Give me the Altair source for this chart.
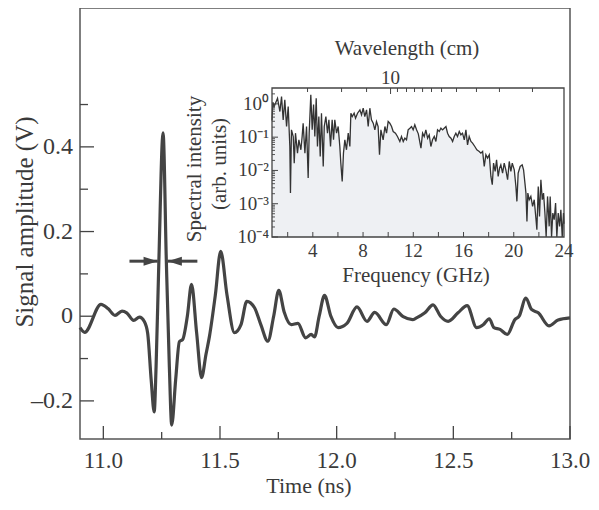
import altair as alt
import pandas as pd

# ---------------- data ----------------
# Main waveform (time in ns, amplitude in V)
time_ns = [10.90, 10.92, 10.99, 11.02, 11.05, 11.08, 11.10, 11.13, 11.155, 11.175,
           11.19, 11.205, 11.218, 11.226, 11.238, 11.256, 11.27, 11.283, 11.293, 11.31,
           11.326, 11.34, 11.36, 11.378, 11.40, 11.421, 11.44, 11.455, 11.48, 11.503,
           11.53, 11.562, 11.59, 11.615, 11.648, 11.675, 11.705, 11.73, 11.752, 11.775,
           11.805, 11.834, 11.867, 11.891, 11.905, 11.925, 11.948, 11.975, 12.006, 12.044,
           12.087, 12.13, 12.163, 12.213, 12.245, 12.285, 12.325, 12.342, 12.378, 12.413,
           12.445, 12.478, 12.52, 12.559, 12.60, 12.628, 12.654, 12.674, 12.70, 12.731,
           12.764, 12.782, 12.811, 12.835, 12.864, 12.91, 12.949, 13.0]
amp_v = [-0.027, -0.038, 0.028, 0.018, 0.002, 0.012, 0.008, -0.010, -0.002, -0.012,
         -0.04, -0.15, -0.226, -0.12, 0.13, 0.433, 0.13, -0.12, -0.257, -0.15,
         -0.06, -0.055, 0.0, 0.075, -0.04, -0.145, -0.09, -0.047, 0.05, 0.153,
         0.05, -0.039, -0.02, 0.035, 0.02, -0.02, -0.059, 0.0, 0.061, 0.01,
         -0.02, -0.017, -0.051, -0.043, -0.049, 0.0, 0.049, 0.0, -0.027, -0.017,
         0.022, -0.012, 0.009, -0.02, 0.017, -0.001, -0.008, -0.004, 0.008, 0.027,
         0.0, -0.012, 0.008, 0.025, -0.027, -0.02, -0.006, -0.027, -0.031, -0.043,
         -0.008, 0.0, 0.043, 0.016, 0.008, -0.023, -0.009, -0.004]

# Pulse-width arrows (time in ns, amplitude in V)
arrow_level = 0.13
arrow_tail = [11.112, 11.403]
arrow_tip = [11.233, 11.276]
arrow_dir = ["right", "left"]

# Main axis ticks and labels
x_major = [11.0, 11.5, 12.0, 12.5, 13.0]
x_labels = ["11.0", "11.5", "12.0", "12.5", "13.0"]
x_minor = [11.25, 11.75, 12.25, 12.75]
y_major = [-0.2, 0.0, 0.2, 0.4]
y_labels = ["\u20130.2", "0", "0.2", "0.4"]
y_minor = [-0.1, 0.1, 0.3, 0.5]
x_title = "Time (ns)"
y_title = "Signal amplitude (V)"

# Inset spectrum (frequency in GHz, log10 of intensity)
freq_ghz = [0.75, 0.82, 0.92, 1.19, 1.38, 1.51, 1.64, 1.77, 1.91, 2.04, 2.17, 2.22, 2.30,
            2.44, 2.52, 2.62, 2.78, 2.89, 3.05, 3.15, 3.23, 3.37, 3.50, 3.63, 3.71, 3.84,
            3.95, 4.06, 4.16, 4.27, 4.37, 4.48, 4.59, 4.69, 4.83, 4.91, 5.04, 5.17, 5.28,
            5.41, 5.54, 5.65, 5.75, 5.89, 6.02, 6.15, 6.23, 6.34, 6.44, 6.55, 6.68, 6.82,
            6.95, 7.03, 7.14, 7.29, 7.40, 7.56, 7.75, 7.88, 8.01, 8.14, 8.28, 8.41, 8.54,
            8.67, 8.81, 8.94, 9.07, 9.20, 9.31, 9.42, 9.60, 9.74, 9.87, 10.00, 10.13,
            10.27, 10.40, 10.58, 10.74, 10.93, 11.06, 11.20, 11.33, 11.46, 11.59, 11.73,
            11.86, 11.99, 12.12, 12.26, 12.40, 12.61, 12.74, 12.87, 13.00, 13.14, 13.27,
            13.40, 13.53, 13.67, 13.80, 13.93, 14.07, 14.20, 14.33, 14.46, 14.60, 14.73,
            14.86, 15.00, 15.13, 15.26, 15.39, 15.52, 15.66, 15.79, 15.92, 16.06, 16.19,
            16.32, 16.45, 16.59, 16.72, 16.90, 17.06, 17.25, 17.38, 17.52, 17.65, 17.78,
            17.91, 18.05, 18.18, 18.29, 18.39, 18.52, 18.63, 18.76, 18.87, 18.97, 19.11,
            19.24, 19.37, 19.51, 19.64, 19.77, 19.88, 20.04, 20.17, 20.25, 20.35, 20.51,
            20.67, 20.78, 20.89, 20.97, 21.05, 21.12, 21.23, 21.36, 21.50, 21.63, 21.76,
            21.84, 21.95, 22.05, 22.16, 22.27, 22.37, 22.48, 22.58, 22.69, 22.82, 22.90,
            23.01, 23.11, 23.22, 23.33, 23.43, 23.54, 23.65, 23.75, 23.86, 23.96, 24.0]
log_intensity = [-0.5, 0.05, -0.08, 0.17, -0.23, 0.22, -0.48, 0.12, -0.68, -0.08, -1.28, -2.68, -0.78,
                 -0.98, -1.78, -0.88, -1.48, -1.08, -1.38, -0.98, -0.58, -1.48, -0.68, -2.23, -0.88, 0.27,
                 -0.78, -0.02, -0.98, 0.17, -1.28, -0.38, -1.58, -0.28, -1.88, -0.68, -0.38, -0.88, -0.48,
                 -1.28, -0.48, -1.08, -0.48, -0.88, -0.68, -1.28, -1.78, -2.33, -1.48, -1.08, -1.38, -0.88,
                 -1.28, -0.28, -0.38, -0.28, -0.43, -0.28, -0.18, -0.33, -0.13, -0.38, -0.18, -0.68, -0.13,
                 -0.48, -0.58, -0.78, -0.53, -0.68, -1.53, -0.78, -1.08, -0.68, -0.88, -0.53, -0.58,
                 -0.68, -0.83, -0.88, -0.98, -1.13, -0.98, -1.13, -1.03, -1.08, -0.78, -0.73,
                 -0.68, -0.78, -0.63, -0.78, -0.90, -1.33, -0.88, -0.98, -0.78, -1.03, -0.93,
                 -1.28, -1.08, -0.98, -1.13, -0.78, -0.83, -0.73, -0.78, -0.73, -0.68, -0.88,
                 -0.98, -1.03, -1.13, -0.98, -0.88, -0.98, -0.83, -0.93, -0.88, -1.08, -0.78,
                 -1.23, -0.98, -1.13, -1.18, -1.28, -1.38, -1.43, -1.48, -1.43, -1.88, -1.53,
                 -1.63, -1.53, -2.18, -2.43, -1.78, -2.03, -1.68, -2.18, -1.93, -1.83, -2.08,
                 -1.78, -1.98, -2.28, -1.73, -2.03, -1.78, -1.98, -2.48, -2.93, -2.08, -1.88,
                 -1.83, -1.98, -2.38, -2.68, -3.53, -2.68, -2.88, -2.78, -3.08, -2.88, -3.43,
                 -3.78, -2.48, -3.38, -2.28, -2.88, -2.68, -3.28, -4.08, -2.78, -3.68, -2.78,
                 -4.08, -3.28, -3.48, -2.98, -4.08, -3.28, -3.68, -3.18, -4.08, -3.28, -3.6]

inset_x_major = [4, 8, 12, 16, 20, 24]
inset_x_labels = ["4", "8", "12", "16", "20", "24"]
inset_x_ticks = [2, 4, 6, 8, 10, 12, 14, 16, 18, 20, 22]
inset_y_major = [1e-4, 1e-3, 1e-2, 1e-1, 1.0]
inset_y_labels = ["10\u207b\u2074", "10\u207b\u00b3", "10\u207b\u00b2", "10\u207b\u00b9", "10\u2070"]
inset_y_minor = [m * 10.0 ** e for e in (-4, -3, -2, -1) for m in range(2, 10)] + [2.0]
inset_x_domain = [0.75, 24.0]
inset_y_domain = [1e-4, 3.0]
inset_x_title = "Frequency (GHz)"
inset_y_title = ["Spectral intensity", "(arb. units)"]

# Top (wavelength) axis of the inset, positions in GHz
wavelength_ticks_ghz = [3.58, 6.29, 8.28, 10.74, 11.46, 12.10, 12.74, 13.45, 14.25,
                        15.44, 17.03, 18.86, 21.49]
wavelength_major_ghz = [10.19]
wavelength_major_label = ["10"]
wavelength_title = "Wavelength (cm)"

# ---------------- styling ----------------
W, H = 490, 431
FONT = "Liberation Serif"
INK = "#444444"
TXT = "#3a3a3a"
FS_TICK, FS_XT, FS_YT, FS_IN, FS_IN_T = 23, 22, 25, 19, 21

wave_df = pd.DataFrame({"t": time_ns, "v": amp_v})
spec_df = pd.DataFrame({"f": freq_ghz, "I": [10.0 ** v for v in log_intensity]})
spec_df["base"] = inset_y_domain[0]

xs = alt.Scale(domain=[10.9, 13.0], nice=False, zero=False)
ys = alt.Scale(domain=[-0.29, 0.728], nice=False, zero=False)


def txt(df, size, **kw):
    return alt.Chart(df).mark_text(font=FONT, fontSize=size, color=TXT, **kw)


# ---- main panel ----
wave = alt.Chart(wave_df).mark_line(interpolate="monotone", color=INK, strokeWidth=3.2).encode(
    x=alt.X("t:Q", scale=xs, axis=None), y=alt.Y("v:Q", scale=ys, axis=None))


def xticks(vals, length):
    return alt.Chart(pd.DataFrame({"t": vals})).mark_rule(color=INK, strokeWidth=1.3).encode(
        x=alt.X("t:Q", scale=xs, axis=None), y=alt.value(H), y2=alt.value(H - length))


def yticks(vals, length):
    return alt.Chart(pd.DataFrame({"v": vals})).mark_rule(color=INK, strokeWidth=1.3).encode(
        y=alt.Y("v:Q", scale=ys, axis=None), x=alt.value(0), x2=alt.value(length))


xlab = txt(pd.DataFrame({"t": x_major, "s": x_labels}), FS_TICK, baseline="alphabetic").encode(
    x=alt.X("t:Q", scale=xs, axis=None), y=alt.value(H + 29), text="s:N")
ylab = txt(pd.DataFrame({"v": y_major, "s": y_labels}), FS_TICK + 1, align="right", baseline="middle").encode(
    y=alt.Y("v:Q", scale=ys, axis=None), x=alt.value(-7), text="s:N")
xtit = txt(pd.DataFrame({"s": [x_title]}), FS_XT, baseline="alphabetic").encode(
    x=alt.value(229), y=alt.value(H + 54), text="s:N")
ytit = txt(pd.DataFrame({"s": [y_title]}), FS_YT, baseline="middle", angle=270).encode(
    x=alt.value(-55), y=alt.value(214), text="s:N")

arrow_df = pd.DataFrame({"tail": arrow_tail, "tip": arrow_tip, "v": [arrow_level] * 2, "dir": arrow_dir})
shafts = alt.Chart(arrow_df).mark_rule(color=INK, strokeWidth=3).encode(
    x=alt.X("tail:Q", scale=xs, axis=None), x2="tip:Q", y=alt.Y("v:Q", scale=ys, axis=None))
head_r = alt.Chart(arrow_df).transform_filter("datum.dir == 'right'").mark_point(
    shape="M-1,-0.32L0,0L-1,0.32Z", filled=True, size=800, color=INK, opacity=1).encode(
    x=alt.X("tip:Q", scale=xs, axis=None), y=alt.Y("v:Q", scale=ys, axis=None))
head_l = alt.Chart(arrow_df).transform_filter("datum.dir == 'left'").mark_point(
    shape="M1,-0.32L0,0L1,0.32Z", filled=True, size=800, color=INK, opacity=1).encode(
    x=alt.X("tip:Q", scale=xs, axis=None), y=alt.Y("v:Q", scale=ys, axis=None))

main = alt.layer(wave, xticks(x_major, 13), xticks(x_minor, 7), yticks(y_major, 14),
                 yticks(y_minor, 8), shafts, head_r, head_l, xlab, ylab, xtit, ytit)

# ---- inset ----
IX0, IX1, IY0, IY1 = 192, 484, 229, 80
xi = alt.Scale(domain=inset_x_domain, range=[IX0, IX1], nice=False, zero=False)
yi = alt.Scale(type="log", domain=inset_y_domain, range=[IY0, IY1], nice=False, clamp=True)

area = alt.Chart(spec_df).mark_area(color="#eef0f3", opacity=1).encode(
    x=alt.X("f:Q", scale=xi, axis=None), y=alt.Y("I:Q", scale=yi, axis=None), y2="base:Q")
spec_line = alt.Chart(spec_df).mark_line(color="#333333", strokeWidth=1.3).encode(
    x=alt.X("f:Q", scale=xi, axis=None), y=alt.Y("I:Q", scale=yi, axis=None))

frame_df = pd.DataFrame({"x": [inset_x_domain[0]], "x2": [inset_x_domain[1]],
                         "y": [inset_y_domain[0]], "y2": [inset_y_domain[1]]})
frame = alt.Chart(frame_df).mark_rect(fillOpacity=0, stroke=INK, strokeWidth=1.3).encode(
    x=alt.X("x:Q", scale=xi, axis=None), x2="x2:Q",
    y=alt.Y("y:Q", scale=yi, axis=None), y2="y2:Q")

ix_ticks = alt.Chart(pd.DataFrame({"f": inset_x_ticks})).mark_rule(color=INK, strokeWidth=1).encode(
    x=alt.X("f:Q", scale=xi, axis=None), y=alt.value(IY0), y2=alt.value(IY0 - 5))
iy_major = alt.Chart(pd.DataFrame({"I": inset_y_major})).mark_rule(color=INK, strokeWidth=1).encode(
    y=alt.Y("I:Q", scale=yi, axis=None), x=alt.value(IX0), x2=alt.value(IX0 + 6))
iy_minor = alt.Chart(pd.DataFrame({"I": inset_y_minor})).mark_rule(color=INK, strokeWidth=0.9).encode(
    y=alt.Y("I:Q", scale=yi, axis=None), x=alt.value(IX0), x2=alt.value(IX0 + 3))
wl_major = alt.Chart(pd.DataFrame({"f": wavelength_major_ghz})).mark_rule(color=INK, strokeWidth=1).encode(
    x=alt.X("f:Q", scale=xi, axis=None), y=alt.value(IY1), y2=alt.value(IY1 + 6))
wl_minor = alt.Chart(pd.DataFrame({"f": wavelength_ticks_ghz})).mark_rule(color=INK, strokeWidth=1).encode(
    x=alt.X("f:Q", scale=xi, axis=None), y=alt.value(IY1), y2=alt.value(IY1 + 4))

ixlab = txt(pd.DataFrame({"f": inset_x_major, "s": inset_x_labels}), FS_IN, baseline="alphabetic").encode(
    x=alt.X("f:Q", scale=xi, axis=None), y=alt.value(IY0 + 20), text="s:N")
iylab = txt(pd.DataFrame({"I": inset_y_major, "s": inset_y_labels}), FS_IN, align="right", baseline="middle").encode(
    y=alt.Y("I:Q", scale=yi, axis=None), x=alt.value(IX0 - 3), text="s:N")
wllab = txt(pd.DataFrame({"f": wavelength_major_ghz, "s": wavelength_major_label}), FS_IN, baseline="alphabetic").encode(
    x=alt.X("f:Q", scale=xi, axis=None), y=alt.value(IY1 - 4), text="s:N")
ixtit = txt(pd.DataFrame({"s": [inset_x_title]}), FS_IN_T, baseline="middle").encode(
    x=alt.value(336), y=alt.value(268), text="s:N")
wltit = txt(pd.DataFrame({"s": [wavelength_title]}), FS_IN_T, baseline="middle").encode(
    x=alt.value(327), y=alt.value(41), text="s:N")
iytit1 = txt(pd.DataFrame({"s": [inset_y_title[0]]}), FS_IN_T, baseline="middle", angle=270).encode(
    x=alt.value(115), y=alt.value(161), text="s:N")
iytit2 = txt(pd.DataFrame({"s": [inset_y_title[1]]}), FS_IN_T, baseline="middle", angle=270).encode(
    x=alt.value(140), y=alt.value(156), text="s:N")

inset = alt.layer(area, spec_line, frame, ix_ticks, iy_major, iy_minor, wl_major, wl_minor,
                  ixlab, iylab, wllab, ixtit, wltit, iytit1, iytit2)

chart = alt.layer(main, inset).resolve_scale(x="independent", y="independent").properties(
    width=W, height=H,
    autosize=alt.AutoSizeParams(type="none"),
    padding={"left": 72, "top": 0, "right": 21, "bottom": 59},
).configure_view(stroke="#555555", strokeWidth=1.5)

chart.save("out.html", embed_options={"renderer": "svg", "actions": False})
